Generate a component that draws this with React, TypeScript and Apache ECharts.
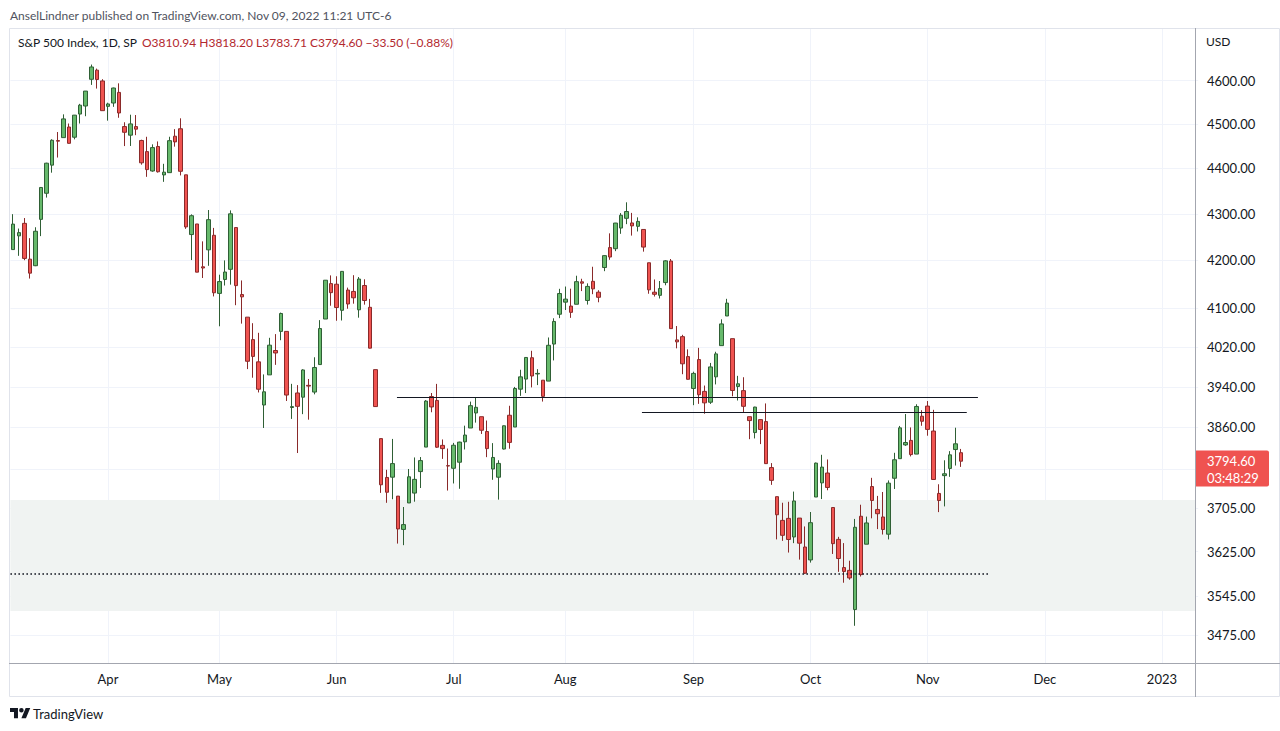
import React, { useEffect, useRef } from "react";
import * as echarts from "echarts";

// ---- daily S&P 500 bars: [open, high, low, close] ----
const mar2022 = [
  [4223.10, 4299.40, 4223.10, 4277.88], [4252.55, 4268.28, 4209.80, 4259.52], [4279.50, 4291.01, 4200.49, 4204.31],
  [4202.75, 4247.57, 4161.72, 4173.11], [4188.82, 4271.05, 4187.90, 4262.45], [4288.14, 4358.90, 4251.99, 4357.86],
  [4345.11, 4412.67, 4335.65, 4411.67], [4407.34, 4465.40, 4390.57, 4463.12], [4462.40, 4481.75, 4424.30, 4461.18],
  [4469.10, 4522.00, 4469.10, 4511.61], [4493.10, 4501.07, 4455.81, 4456.24], [4469.98, 4520.58, 4465.17, 4520.16],
  [4522.66, 4546.03, 4501.07, 4543.06], [4541.09, 4575.65, 4517.69, 4575.52], [4602.86, 4637.30, 4589.82, 4631.60],
  [4624.20, 4627.77, 4581.32, 4602.45], [4599.02, 4603.07, 4530.41, 4530.41],
];
const apr2022 = [
  [4540.32, 4548.70, 4507.57, 4545.86], [4547.97, 4583.50, 4539.21, 4582.64], [4572.45, 4593.45, 4514.17, 4525.12],
  [4494.17, 4503.94, 4450.04, 4481.15], [4474.65, 4521.16, 4450.30, 4500.21], [4494.15, 4520.41, 4474.60, 4488.28],
  [4462.64, 4464.35, 4408.38, 4412.53], [4437.59, 4471.00, 4381.34, 4397.45], [4394.30, 4453.92, 4392.70, 4446.59],
  [4449.12, 4460.46, 4390.77, 4392.59], [4385.63, 4410.31, 4370.30, 4391.69], [4390.63, 4471.03, 4390.63, 4462.21],
  [4472.26, 4488.29, 4448.76, 4459.45], [4489.17, 4512.94, 4384.47, 4393.66], [4385.83, 4385.83, 4267.62, 4271.78],
  [4255.34, 4299.02, 4200.82, 4296.12], [4278.14, 4278.14, 4175.04, 4175.20], [4186.52, 4240.71, 4162.90, 4183.96],
  [4222.58, 4308.45, 4188.63, 4287.50], [4253.75, 4269.68, 4124.28, 4131.93],
];
const may2022 = [
  [4130.61, 4169.81, 4062.51, 4155.38], [4159.78, 4200.10, 4147.08, 4175.48], [4181.18, 4307.66, 4148.91, 4300.17],
  [4270.43, 4270.43, 4106.01, 4146.87], [4128.17, 4157.69, 4067.91, 4123.34], [4081.27, 4081.27, 3975.48, 3991.24],
  [4035.18, 4068.82, 3958.17, 4001.05], [3990.08, 4049.09, 3928.82, 3935.18], [3903.95, 3964.80, 3858.87, 3930.08],
  [3963.90, 4038.88, 3963.90, 4023.89], [4013.02, 4046.46, 3983.99, 4008.01], [4052.00, 4090.72, 4033.93, 4088.85],
  [4051.98, 4051.98, 3911.91, 3923.68], [3899.00, 3945.96, 3876.58, 3900.79], [3927.76, 3943.42, 3810.32, 3901.36],
  [3919.42, 3975.23, 3885.94, 3973.75], [3942.94, 3955.68, 3875.13, 3941.48], [3929.59, 3999.33, 3925.03, 3978.73],
  [3984.60, 4075.14, 3984.60, 4057.84], [4077.43, 4158.49, 4077.43, 4158.24], [4151.09, 4168.34, 4104.88, 4132.15],
];
const jun2022 = [
  [4149.78, 4166.54, 4073.85, 4101.23], [4095.41, 4177.51, 4074.37, 4176.82], [4137.57, 4142.67, 4098.67, 4108.54],
  [4134.72, 4168.78, 4109.18, 4121.43], [4096.47, 4164.86, 4080.19, 4160.68], [4147.12, 4160.14, 4107.20, 4115.77],
  [4101.65, 4119.10, 4017.17, 4017.82], [3974.39, 3974.39, 3900.16, 3900.86], [3838.15, 3838.15, 3734.30, 3749.63],
  [3763.52, 3778.18, 3715.59, 3735.48], [3764.05, 3837.56, 3722.30, 3789.99], [3728.18, 3728.18, 3639.77, 3666.77],
  [3665.90, 3707.71, 3636.87, 3674.84], [3715.31, 3779.65, 3715.31, 3764.79], [3733.89, 3801.79, 3717.69, 3759.89],
  [3774.71, 3802.58, 3743.52, 3795.73], [3821.75, 3913.65, 3821.75, 3911.74], [3920.76, 3927.72, 3889.66, 3900.11],
  [3913.00, 3945.86, 3820.14, 3821.55], [3825.09, 3836.50, 3799.02, 3818.83], [3785.99, 3818.99, 3738.67, 3785.38],
];
const jul2022 = [
  [3781.00, 3829.82, 3752.10, 3825.33], [3792.61, 3832.19, 3742.06, 3831.39], [3831.98, 3863.37, 3817.18, 3845.08],
  [3858.85, 3910.63, 3858.85, 3902.62], [3888.26, 3918.50, 3869.34, 3899.38], [3880.94, 3880.94, 3847.22, 3854.43],
  [3851.95, 3873.41, 3802.36, 3818.80], [3779.67, 3829.44, 3759.07, 3801.78], [3763.99, 3796.41, 3721.56, 3790.38],
  [3818.00, 3863.62, 3817.18, 3863.16], [3883.79, 3902.44, 3818.63, 3830.85], [3860.73, 3939.81, 3860.73, 3936.69],
  [3935.32, 3974.13, 3922.03, 3959.90], [3955.47, 3999.29, 3927.64, 3998.95], [3998.40, 4012.44, 3938.85, 3961.63],
  [3965.72, 3975.30, 3943.46, 3966.84], [3953.22, 3953.22, 3910.74, 3921.05], [3951.43, 4039.56, 3951.43, 4023.61],
  [4026.13, 4078.95, 3992.97, 4072.43], [4087.33, 4140.15, 4079.22, 4130.29],
];
const aug2022 = [
  [4112.38, 4144.95, 4096.02, 4118.63], [4104.21, 4140.47, 4079.81, 4091.19], [4107.96, 4167.66, 4107.96, 4155.17],
  [4154.85, 4161.29, 4135.42, 4151.94], [4115.87, 4151.58, 4107.31, 4145.19], [4155.93, 4186.62, 4128.97, 4140.06],
  [4133.11, 4137.30, 4112.09, 4122.47], [4184.98, 4211.03, 4177.26, 4210.24], [4227.40, 4257.91, 4201.41, 4207.27],
  [4225.02, 4280.47, 4219.78, 4280.15], [4269.37, 4301.79, 4256.90, 4297.14], [4290.46, 4325.28, 4277.77, 4305.20],
  [4280.40, 4302.18, 4253.08, 4274.04], [4273.13, 4292.53, 4261.98, 4283.74], [4266.31, 4266.31, 4218.70, 4228.48],
  [4195.08, 4195.08, 4129.86, 4137.99], [4133.09, 4159.77, 4124.03, 4128.73], [4126.55, 4156.56, 4119.97, 4140.77],
  [4153.26, 4200.54, 4147.59, 4199.12], [4198.74, 4203.04, 4057.66, 4057.66], [4034.58, 4062.99, 4017.42, 4030.61],
  [4041.25, 4044.98, 3965.21, 3986.16], [4000.67, 4015.37, 3954.53, 3955.00],
];
const sep2022 = [
  [3936.73, 3970.23, 3903.65, 3966.85], [3994.66, 4018.43, 3906.21, 3924.26], [3930.89, 3942.55, 3886.75, 3908.19],
  [3909.43, 3987.89, 3906.03, 3979.87], [3959.94, 4010.50, 3944.81, 4006.18], [4022.94, 4076.81, 4022.94, 4067.36],
  [4083.67, 4119.28, 4083.67, 4110.41], [4037.12, 4037.12, 3921.27, 3932.69], [3940.73, 3961.94, 3912.87, 3946.01],
  [3932.41, 3959.14, 3888.28, 3901.35], [3880.95, 3880.95, 3837.08, 3873.33], [3849.91, 3900.45, 3838.50, 3899.89],
  [3875.23, 3876.01, 3827.54, 3855.93], [3871.40, 3907.07, 3789.49, 3789.93], [3782.36, 3790.93, 3749.45, 3757.99],
  [3727.14, 3727.14, 3647.47, 3693.23], [3682.72, 3715.67, 3644.76, 3655.04], [3686.44, 3717.53, 3623.29, 3647.29],
  [3651.94, 3736.74, 3640.61, 3719.04], [3687.01, 3687.01, 3610.40, 3640.47], [3633.48, 3671.44, 3584.13, 3585.62],
];
const oct2022 = [
  [3609.78, 3698.35, 3604.93, 3678.43], [3726.46, 3791.92, 3726.46, 3790.93], [3753.25, 3806.91, 3722.66, 3783.28],
  [3771.97, 3797.93, 3739.22, 3744.52], [3706.74, 3706.74, 3620.73, 3639.66], [3647.51, 3652.17, 3588.10, 3612.39],
  [3595.86, 3640.66, 3568.45, 3588.84], [3590.83, 3608.34, 3573.86, 3577.03], [3520.37, 3685.41, 3491.58, 3669.91],
  [3690.41, 3712.00, 3579.68, 3583.07], [3638.65, 3689.73, 3638.65, 3677.95], [3746.26, 3762.79, 3686.53, 3719.98],
  [3703.11, 3728.58, 3666.51, 3695.16], [3689.05, 3736.00, 3656.44, 3665.78], [3657.10, 3757.89, 3647.42, 3752.75],
  [3762.01, 3810.74, 3741.65, 3797.34], [3799.44, 3862.85, 3799.44, 3859.11], [3825.97, 3886.15, 3824.07, 3830.60],
  [3834.69, 3859.95, 3803.79, 3807.30], [3808.26, 3905.42, 3808.26, 3901.06], [3881.85, 3893.73, 3863.18, 3871.98],
];
const nov2022 = [
  [3901.79, 3911.79, 3843.80, 3856.10], [3852.90, 3894.44, 3758.68, 3759.69], [3733.25, 3750.59, 3698.15, 3719.89],
  [3766.98, 3796.34, 3708.84, 3770.55], [3780.71, 3813.95, 3764.70, 3806.80], [3817.02, 3859.40, 3786.28, 3828.11],
  [3810.94, 3818.20, 3783.71, 3794.60],
];

// ---- calendar / axis ----
const firstSession = "2022-03-09";
const sessionSlots = 213; // visible bars incl. future space
const marketHolidays = ["2022-04-15", "2022-05-30", "2022-06-20", "2022-07-04", "2022-09-05", "2022-11-24", "2022-12-26", "2023-01-02"];
const monthNames = ["Jan", "Feb", "Mar", "Apr", "May", "Jun", "Jul", "Aug", "Sep", "Oct", "Nov", "Dec"];
const priceTicks = [3475, 3545, 3625, 3705, 3860, 3940, 4020, 4100, 4200, 4300, 4400, 4500, 4600];
const gridPrices = [3475, 3545, 3625, 3705, 3780, 3860, 3940, 4020, 4100, 4200, 4300, 4400, 4500, 4600];
const priceRange = [3426.5, 4723.8];

// ---- drawn annotations ----
const zonePrices = [3518, 3721];
const supportPrice = 3584.5;
const resistancePrices = [3919, 3890];
const supportSpan = [-0.5, 175.2];
const resistanceSpans = [[68.82, 173.0], [112.75, 171.0]];
const zoneSpan = [-0.5, 211.92];

const headerText = "AnselLindner published on TradingView.com, Nov 09, 2022 11:21 UTC-6";
const legendTitle = "S&P 500 Index, 1D, SP";
const legendValues = "O3810.94 H3818.20 L3783.71 C3794.60 \u221233.50 (\u22120.88%)";
const countdown = "03:48:29";

const tvLogoPath =
  "M14 22H7V11H0V4h14v18zM28 22h-8l7.5-18h8L28 22zM16 8a4 4 0 1 0 8 0a4 4 0 1 0 -8 0z";
echarts.graphic.registerShape("tvlogo", echarts.graphic.extendPath(tvLogoPath, {}));

function tradingDays(start: string, count: number, skip: string[]) {
  const out: string[] = [];
  const d = new Date(start + "T00:00:00Z");
  while (out.length < count) {
    const wd = d.getUTCDay();
    const s = d.toISOString().slice(0, 10);
    if (wd !== 0 && wd !== 6 && !skip.includes(s)) out.push(s);
    d.setUTCDate(d.getUTCDate() + 1);
  }
  return out;
}

const FONT = "Lato";

export default function App() {
  const ref = useRef<HTMLDivElement>(null);
  useEffect(() => {
    if (!ref.current) return;
    const chart = echarts.init(ref.current, undefined, { renderer: "svg" });
    const L = Math.log;
    const bars = [...mar2022, ...apr2022, ...may2022, ...jun2022, ...jul2022, ...aug2022, ...sep2022, ...oct2022, ...nov2022];
    const dates = tradingDays(firstSession, sessionSlots, marketHolidays);
    const monthStarts: number[] = [];
    dates.forEach((d, i) => {
      if (i > 0 && d.slice(5, 7) !== dates[i - 1].slice(5, 7)) monthStarts.push(i);
    });
    const monthStartSet = new Set(monthStarts);
    const lastClose = bars[bars.length - 1][3];

    const option: any = {
      animation: false,
      textStyle: { fontFamily: FONT },
      grid: { left: 10.4, right: 81.8, top: 28, bottom: 68 },
      xAxis: [
        {
          type: "category",
          data: dates,
          boundaryGap: true,
          axisLine: { show: false },
          axisTick: { show: false },
          splitLine: { show: false },
          axisLabel: {
            interval: (i: number) => monthStartSet.has(i),
            formatter: (v: string) => {
              const m = parseInt(v.slice(5, 7), 10) - 1;
              return m === 0 ? v.slice(0, 4) : monthNames[m];
            },
            color: "#131722",
            fontSize: 13,
            margin: 9,
          },
        },
        {
          type: "value",
          min: -0.5,
          max: dates.length - 0.5,
          axisLine: { show: false },
          axisLabel: { show: false },
          axisTick: { show: false, customValues: monthStarts },
          splitLine: { show: true, lineStyle: { color: "#f0f3fa", width: 1 } },
        },
      ],
      yAxis: {
        type: "value",
        position: "right",
        min: L(priceRange[0]),
        max: L(priceRange[1]),
        axisLine: { show: false },
        axisTick: { show: false, customValues: gridPrices.map(L) },
        axisLabel: {
          customValues: priceTicks.map(L),
          formatter: (v: number) => Math.exp(v).toFixed(2),
          color: "#131722",
          fontSize: 13,
          margin: 8.8,
          align: "left",
        },
        splitLine: { show: true, lineStyle: { color: "#f0f3fa", width: 1 } },
      },
      series: [
        {
          type: "line",
          xAxisIndex: 1,
          yAxisIndex: 0,
          data: [],
          z: 0,
          silent: true,
          markArea: {
            silent: true,
            itemStyle: { color: "#f0f3f2" },
            data: [[{ coord: [zoneSpan[0], L(zonePrices[1])] }, { coord: [zoneSpan[1], L(zonePrices[0])] }]],
          },
        },
        {
          type: "candlestick",
          xAxisIndex: 0,
          yAxisIndex: 0,
          z: 2,
          barWidth: 4,
          data: bars.map(([o, h, l, c]) => [L(o), L(c), L(l), L(h)]),
          itemStyle: {
            color: "#66b96b",
            color0: "#ef5350",
            borderColor: "#2f5f35",
            borderColor0: "#8a2a2a",
            borderWidth: 1,
          },
        },
        {
          type: "line",
          xAxisIndex: 1,
          yAxisIndex: 0,
          data: [],
          z: 5,
          silent: true,
          markLine: {
            silent: true,
            symbol: ["none", "none"],
            label: { show: false },
            emphasis: { disabled: true },
            lineStyle: { color: "#131722", width: 1, type: "solid" },
            data: [
              [
                { coord: [resistanceSpans[0][0], L(resistancePrices[0])] },
                { coord: [resistanceSpans[0][1], L(resistancePrices[0])] },
              ],
              [
                { coord: [resistanceSpans[1][0], L(resistancePrices[1])] },
                { coord: [resistanceSpans[1][1], L(resistancePrices[1])] },
              ],
            ],
          },
        },
        {
          type: "line",
          xAxisIndex: 1,
          yAxisIndex: 0,
          data: [],
          z: 5,
          silent: true,
          markLine: {
            silent: true,
            symbol: ["none", "none"],
            label: { show: false },
            emphasis: { disabled: true },
            lineStyle: { color: "#131722", width: 1.6, type: [1.6, 2.4] },
            data: [
              [
                { coord: [supportSpan[0], L(supportPrice)] },
                { coord: [supportSpan[1], L(supportPrice)] },
              ],
            ],
          },
        },
      ],
    };
    chart.setOption(option);

    const py = chart.convertToPixel({ yAxisIndex: 0 }, L(lastClose)) as number;
    const s = 0.57;
    chart.setOption({
      graphic: [
        { type: "rect", silent: true, z: 20, shape: { x: 9.5, y: 28.5, width: 1270, height: 668 }, style: { fill: "none", stroke: "#e0e3eb", lineWidth: 1 } },
        { type: "line", silent: true, z: 20, shape: { x1: 1195.5, y1: 28, x2: 1195.5, y2: 697 }, style: { stroke: "#a3a6af", lineWidth: 1 } },
        { type: "line", silent: true, z: 20, shape: { x1: 9, y1: 663.5, x2: 1280, y2: 663.5 }, style: { stroke: "#a3a6af", lineWidth: 1.2 } },
        { type: "text", silent: true, z: 20, x: 10, y: 15, style: { text: headerText, fontFamily: FONT, fontSize: 12, fill: "#50535e", verticalAlign: "middle" } },
        { type: "text", silent: true, z: 20, x: 18, y: 42, style: { text: legendTitle, fontFamily: FONT, fontSize: 12, fill: "#131722", verticalAlign: "middle" } },
        { type: "text", silent: true, z: 20, x: 142, y: 42, style: { text: legendValues, fontFamily: FONT, fontSize: 12, fill: "#b2282e", verticalAlign: "middle" } },
        { type: "text", silent: true, z: 20, x: 1206, y: 41, style: { text: "USD", fontFamily: FONT, fontSize: 12, fill: "#131722", verticalAlign: "middle" } },
        { type: "rect", silent: true, z: 21, shape: { x: 1196, y: py - 10.6, width: 73, height: 36, r: [0, 2, 2, 0] }, style: { fill: "#ef5350" } },
        { type: "text", silent: true, z: 22, x: 1207, y: py, style: { text: lastClose.toFixed(2), fontFamily: FONT, fontSize: 13, fill: "#ffffff", verticalAlign: "middle" } },
        { type: "text", silent: true, z: 22, x: 1207, y: py + 16.7, style: { text: countdown, fontFamily: FONT, fontSize: 13, fill: "#ffffff", verticalAlign: "middle" } },
        { type: "tvlogo", silent: true, z: 20, x: 10, y: 708 - 4 * s, scaleX: s, scaleY: s, style: { fill: "#131722" } },
        { type: "text", silent: true, z: 20, x: 33, y: 714, style: { text: "TradingView", fontFamily: FONT, fontSize: 13, fill: "#131722", verticalAlign: "middle" } },
      ],
    });
    return () => chart.dispose();
  }, []);
  return (
    <div
      ref={ref}
      style={{ position: "absolute", left: 0, top: 0, width: 1280, height: 731, background: "#ffffff" }}
    />
  );
}
